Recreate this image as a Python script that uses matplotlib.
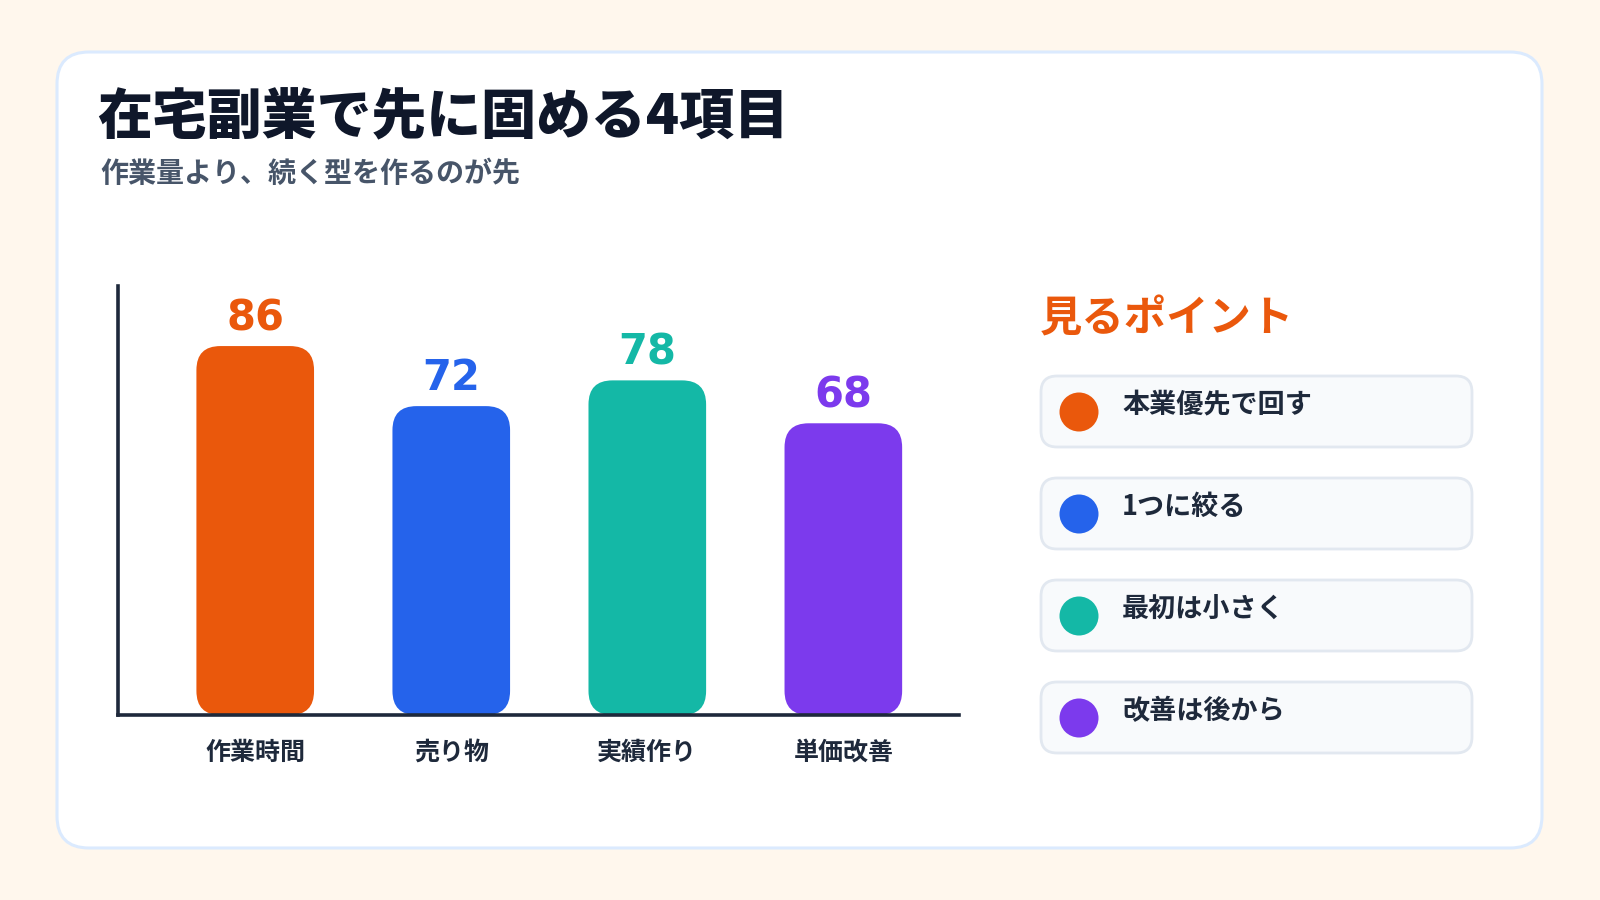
import matplotlib.pyplot as plt
from matplotlib.patches import FancyBboxPatch, Circle

plt.rcParams['font.family'] = ['Noto Sans CJK JP', 'DejaVu Sans']

categories = ['作業時間', '売り物', '実績作り', '単価改善']
values = [86, 72, 78, 68]
colors = ['#ea580c', '#2563eb', '#14b8a6', '#7c3aed']

title = '在宅副業で先に固める4項目'
subtitle = '作業量より、続く型を作るのが先'
panel_title = '見るポイント'
points = ['本業優先で回す', '1つに絞る', '最初は小さく', '改善は後から']

W, H = 1600, 900
fig = plt.figure(figsize=(16, 9), dpi=100)
fig.patch.set_facecolor('#fff7ed')

# background layer in pixel coords (y down)
bg = fig.add_axes([0, 0, 1, 1])
bg.set_xlim(0, W)
bg.set_ylim(H, 0)
bg.axis('off')

card = FancyBboxPatch((57, 52), 1485, 796, boxstyle='round,pad=0,rounding_size=32',
                      facecolor='white', edgecolor='#dbeafe', linewidth=2.2)
bg.add_patch(card)

bg.text(97, 134, title, fontsize=39.5, fontweight='heavy', color='#0f172a', va='baseline')
bg.text(100, 182, subtitle, fontsize=20.2, fontweight='bold', color='#475569', va='baseline')

bg.text(1040, 331, panel_title, fontsize=30.5, fontweight='bold', color='#ea580c', va='baseline')
for i, (p, c) in enumerate(zip(points, colors)):
    y0 = 376 + i * 102
    bg.add_patch(FancyBboxPatch((1041, y0), 431, 71, boxstyle='round,pad=0,rounding_size=16',
                                facecolor='#f8fafc', edgecolor='#e2e8f0', linewidth=2))
    bg.add_patch(Circle((1079, y0 + 36), 19.5, facecolor=c, edgecolor='none'))
    bg.text(1122, y0 + 29, p, fontsize=19.5, fontweight='bold', color='#1e293b', va='center')

# chart
x0, x1, yb, yt = 118, 959, 715, 286
ax = fig.add_axes([x0 / W, 1 - yb / H, (x1 - x0) / W, (yb - yt) / H])
ax.patch.set_alpha(0)
pos = list(range(len(categories)))
ax.set_xlim(-0.7, 3.59)
ax.set_ylim(0, 100)

bars = ax.bar(pos, values, width=0.6, color=colors)
# swap plain rectangles for rounded ones
px_x = (x1 - x0) / 4.29
px_y = (yb - yt) / 100
r = 24 / px_x
for b, c in zip(bars, colors):
    b.set_visible(False)
    rb = FancyBboxPatch((b.get_x(), 0), b.get_width(), b.get_height(),
                        boxstyle='round,pad=0,rounding_size=%f' % r,
                        mutation_aspect=px_x / px_y, facecolor=c, edgecolor='none', zorder=1)
    ax.add_patch(rb)
    ax.text(b.get_x() + b.get_width() / 2, b.get_height() + 1.6, '%d' % b.get_height(),
            ha='center', va='bottom', fontsize=30, fontweight='bold', color=c,
            family=['DejaVu Sans'])

for s in ['top', 'right']:
    ax.spines[s].set_visible(False)
for s in ['left', 'bottom']:
    ax.spines[s].set_color('#1e293b')
    ax.spines[s].set_linewidth(2.6)
    ax.spines[s].set_zorder(3)
ax.set_yticks([])
ax.set_xticks(pos)
ax.set_xticklabels(categories, fontsize=18, fontweight='bold', color='#1e293b')
ax.tick_params(axis='x', length=0, pad=18.5)

fig.savefig('out.png', dpi=100, facecolor=fig.get_facecolor())
